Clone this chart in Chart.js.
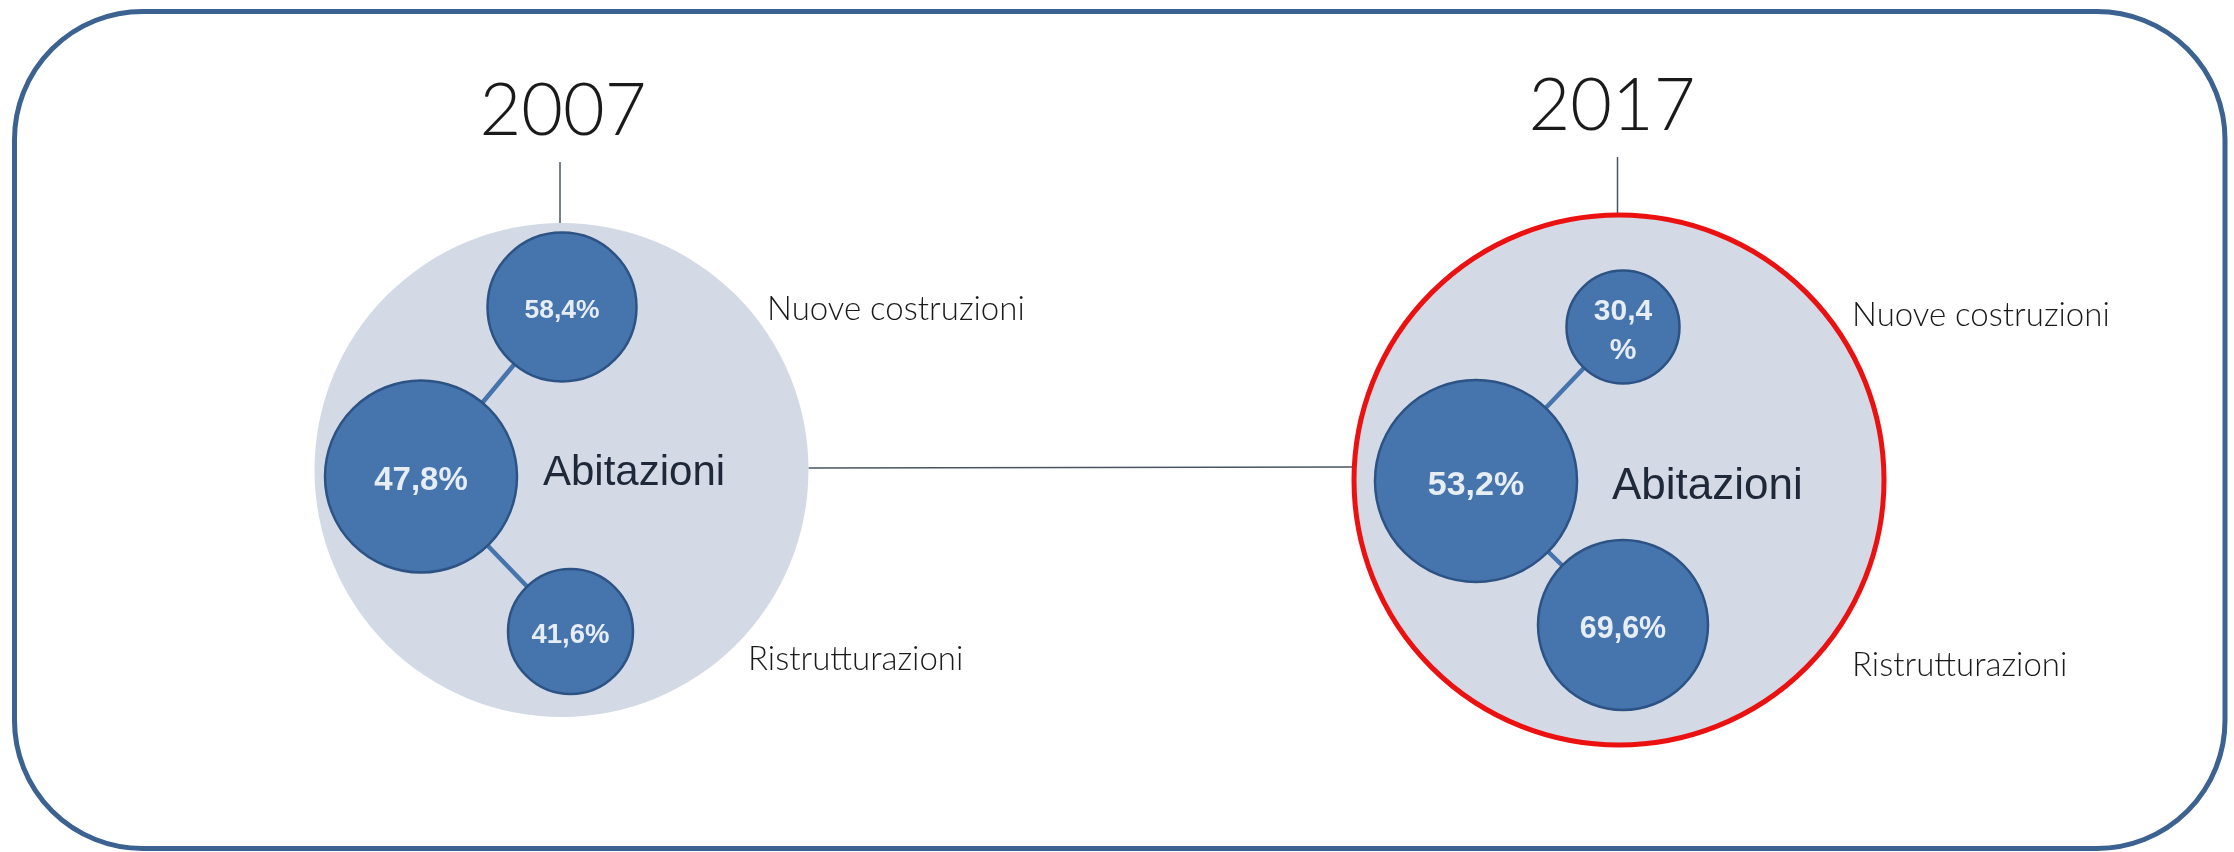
<!DOCTYPE html>
<html><head><meta charset="utf-8">
<script src="https://cdn.jsdelivr.net/npm/chart.js@4/dist/chart.umd.min.js"></script>
<style>
html,body{margin:0;padding:0;background:#fff;}
#wrap{position:relative;width:2234px;height:852px;}
</style>
</head><body><div id="wrap"><canvas id="c"></canvas></div>
<script>
// ---- values ----
const years = ['2007', '2017'];
const categories = ['Abitazioni', 'Nuove costruzioni', 'Ristrutturazioni'];
const values2007 = [47.8, 58.4, 41.6];
const values2017 = [53.2, 30.4, 69.6];
const seriesValues = [values2007, values2017];

// ---- diagram geometry (data units of the hidden scales) ----
const groupLayout = [
  { year: {x: 563, y: 109}, tickTop: 162, hub: {x: 561.5, y: 470, r: 247},
    nodes: [ {x: 421, y: 476.5, r: 96}, {x: 562, y: 307, r: 74.5}, {x: 570.5, y: 631.5, r: 62.5} ],
    titlePos: {x: 543, y: 470}, titlePx: 42,
    sidePos: [ {x: 767, y: 307.5}, {x: 748, y: 657.5} ],
    fontPx: [33, 26.5, 27.5], wrap: [false, false, false] },
  { year: {x: 1612, y: 104}, tickTop: 157, hub: {x: 1619, y: 480, r: 265},
    nodes: [ {x: 1476, y: 481, r: 101}, {x: 1623, y: 327, r: 56.5}, {x: 1623, y: 625, r: 85} ],
    titlePos: {x: 1612, y: 483}, titlePx: 44,
    sidePos: [ {x: 1852, y: 314}, {x: 1852, y: 664} ],
    fontPx: [34, 30, 30.5], wrap: [false, true, false] }
];

const fmt = v => v.toFixed(1).replace('.', ',') + '%';

// ---- build datasets ----
const guideLine = [];
groupLayout.forEach(g => {
  guideLine.push({x: g.hub.x - 1.5, y: g.tickTop}, {x: g.hub.x - 1.5, y: g.hub.y - g.hub.r}, {x: null, y: null});
});
guideLine.push({x: groupLayout[0].hub.x + groupLayout[0].hub.r, y: 468}, {x: groupLayout[1].hub.x - groupLayout[1].hub.r, y: 467});

const connectors = [];
groupLayout.forEach(g => {
  const c = g.nodes[0];
  [1, 2].forEach(i => {
    connectors.push({x: c.x, y: c.y}, {x: g.nodes[i].x, y: g.nodes[i].y}, {x: null, y: null});
  });
});

const hubs = groupLayout.map(g => ({x: g.hub.x, y: g.hub.y, r: g.hub.r}));
const nodes = [];
groupLayout.forEach(g => g.nodes.forEach(n => nodes.push({x: n.x, y: n.y, r: n.r})));

// ---- plugins ----
const framePlugin = {
  id: 'frame',
  beforeDraw(chart) {
    const ctx = chart.ctx;
    ctx.save();
    ctx.fillStyle = '#fff';
    ctx.fillRect(0, 0, chart.width, chart.height);
    ctx.beginPath();
    ctx.roundRect(14.5, 11.5, 2210.5, 837, 128);
    ctx.lineWidth = 5;
    ctx.strokeStyle = '#3b6290';
    ctx.stroke();
    ctx.restore();
  }
};

// bubbles sized in data units (through the scales) instead of raw pixels
const bubblePlugin = {
  id: 'dataBubbles',
  beforeDatasetDraw(chart, args) {
    const ds = chart.data.datasets[args.index];
    if (ds.type !== 'bubble') return;
    const xs = chart.scales.x, ys = chart.scales.y;
    const ctx = chart.ctx;
    ctx.save();
    args.meta.data.forEach((el, i) => {
      const raw = ds.data[i];
      const rx = Math.abs(xs.getPixelForValue(raw.x + raw.r) - el.x);
      const ry = Math.abs(ys.getPixelForValue(raw.y + raw.r) - el.y);
      const pick = v => Array.isArray(v) ? v[i] : v;
      ctx.beginPath();
      ctx.ellipse(el.x, el.y, rx, ry, 0, 0, Math.PI * 2);
      ctx.fillStyle = pick(ds.backgroundColor);
      ctx.fill();
      const bw = pick(ds.borderWidth);
      if (bw > 0) { ctx.lineWidth = bw; ctx.strokeStyle = pick(ds.borderColor); ctx.stroke(); }
    });
    ctx.restore();
    return false;
  }
};

function capText(ctx, text, x, y, font, align) {
  // draws text with its cap height vertically centred on y
  ctx.font = font;
  const m = ctx.measureText('H');
  const cap = m.actualBoundingBoxAscent;
  ctx.textAlign = align;
  ctx.textBaseline = 'alphabetic';
  ctx.fillText(text, x, y + cap / 2);
}

const textPlugin = {
  id: 'texts',
  afterDatasetsDraw(chart) {
    const ctx = chart.ctx;
    const xs = chart.scales.x, ys = chart.scales.y;
    const X = v => xs.getPixelForValue(v), Y = v => ys.getPixelForValue(v);
    ctx.save();
    groupLayout.forEach((g, gi) => {
      ctx.fillStyle = '#1a1a1a';
      capText(ctx, years[gi], X(g.year.x), Y(g.year.y), '300 72px Lato, "Open Sans", sans-serif', 'center');

      ctx.fillStyle = '#1e2838';
      capText(ctx, categories[0], X(g.titlePos.x), Y(g.titlePos.y), g.titlePx + 'px "Liberation Sans", Arial, sans-serif', 'left');

      ctx.fillStyle = '#1a1a1a';
      g.sidePos.forEach((p, k) => {
        capText(ctx, categories[k + 1], X(p.x), Y(p.y), '300 33px Lato, "Open Sans", sans-serif', 'left');
      });

      ctx.fillStyle = '#e7edf5';
      g.nodes.forEach((n, ni) => {
        const txt = fmt(seriesValues[gi][ni]);
        const font = 'bold ' + g.fontPx[ni] + 'px "Liberation Sans", Arial, sans-serif';
        const px = X(n.x), py = Y(n.y + 2);
        if (g.wrap[ni]) {
          const gap = g.fontPx[ni] * 0.65;
          capText(ctx, txt.slice(0, -1), px, py - gap, font, 'center');
          capText(ctx, '%', px, py + gap, font, 'center');
        } else {
          capText(ctx, txt, px, py, font, 'center');
        }
      });
    });
    ctx.restore();
  }
};

new Chart(document.getElementById('c'), {
  type: 'bubble',
  data: {
    datasets: [
      { type: 'line', data: guideLine, borderColor: '#4a5561', borderWidth: 1.5, pointRadius: 0, spanGaps: false, fill: false, order: 4 },
      { type: 'bubble', data: hubs, backgroundColor: '#d3dae5', borderColor: ['rgba(0,0,0,0)', '#ec1111'], borderWidth: [0, 5], order: 3, clip: false },
      { type: 'line', data: connectors, borderColor: '#4674ad', borderWidth: 4.5, pointRadius: 0, spanGaps: false, fill: false, order: 2 },
      { type: 'bubble', data: nodes, backgroundColor: '#4674ad', borderColor: '#2d5385', borderWidth: 2.5, order: 1, clip: false }
    ]
  },
  options: {
    responsive: true,
    maintainAspectRatio: false,
    animation: false,
    events: [],
    layout: { padding: 0, autoPadding: false },
    plugins: { legend: { display: false }, tooltip: { enabled: false } },
    scales: {
      x: { type: 'linear', min: 0, max: 2234, display: false },
      y: { type: 'linear', min: 0, max: 852, reverse: true, display: false }
    }
  },
  plugins: [framePlugin, bubblePlugin, textPlugin]
});
</script>
</body></html>
